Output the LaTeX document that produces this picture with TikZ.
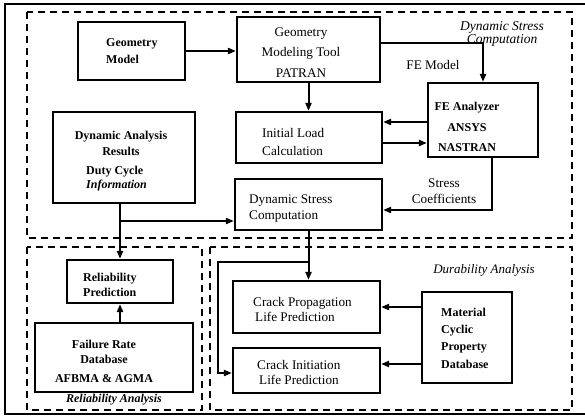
\documentclass[tikz,border=0pt]{standalone}
\usepackage{fontspec}
\setmainfont{Liberation Serif}
\usetikzlibrary{arrows.meta}
\tikzset{
  box/.style={draw, line width=2.2pt, inner sep=0pt},
  region/.style={draw, line width=1.5pt, dash pattern=on 7pt off 5pt},
  conn/.style={line width=2pt, -{Triangle[length=8pt,width=6pt]}},
  txt/.style={inner sep=0pt, font=\fontsize{13.2}{16}\selectfont},
  btxt/.style={inner sep=0pt, font=\fontsize{12}{16}\selectfont\bfseries},
}
\begin{document}
\begin{tikzpicture}[x=1pt,y=-1pt]
\useasboundingbox (0,0) rectangle (585,418);
% outer frame
\draw[line width=2.4pt] (585,4) -- (5,4) -- (5,414) -- (585,414);
% regions
\draw[region] (27,12) rectangle (572,238);
\draw[region] (27,247) rectangle (202,410);
\draw[region] (210,247) rectangle (572,410);
% boxes
\node[box, minimum width=107pt, minimum height=58pt] (gm) at (131.5,51) {};
\node[box, minimum width=143pt, minimum height=65pt] (gmt) at (308.5,49.5) {};
\node[box, minimum width=142pt, minimum height=91pt] (dar) at (124,157.5) {};
\node[box, minimum width=146pt, minimum height=51pt] (ilc) at (309,137.5) {};
\node[box, minimum width=110pt, minimum height=74pt] (fea) at (483,120) {};
\node[box, minimum width=147pt, minimum height=51pt] (dsc) at (308.5,204.5) {};
\node[box, minimum width=106pt, minimum height=43pt] (rp) at (120,281.5) {};
\node[box, minimum width=158pt, minimum height=69pt] (frd) at (114,357.5) {};
\node[box, minimum width=147pt, minimum height=52pt] (cp) at (306.5,307) {};
\node[box, minimum width=147pt, minimum height=45pt] (ci) at (306.5,370.5) {};
\node[box, minimum width=90pt, minimum height=91pt] (mcpd) at (467,337.5) {};
% texts
\node[btxt, align=left, anchor=west, font=\fontsize{12}{17}\selectfont\bfseries] (gmtxt) at (106,51.5) {Geometry\\Model};
\node[txt, align=center, font=\fontsize{13.2}{20.5}\selectfont] (gmttxt) at (301,52.5) {Geometry\\Modeling Tool\\PATRAN};
\node[btxt, align=center] (dartxt) at (121,143) {Dynamic Analysis\\Results};
\node[btxt, align=left, anchor=west, font=\fontsize{12}{14}\selectfont\bfseries] (dartxt2) at (86,179) {Duty Cycle\\\textit{Information}};
\node[txt, align=left, anchor=west, font=\fontsize{13.2}{18}\selectfont] (ilctxt) at (262,142) {Initial Load\\Calculation};
\node[txt, align=left, anchor=west] (dsctxt) at (249,209) {Dynamic Stress\\Computation};
\node[btxt, align=center, font=\fontsize{12}{20.5}\selectfont\bfseries] (featxt) at (467,127) {FE Analyzer\\ANSYS\\NASTRAN};
\node[txt] (femodel) at (433,65) {FE Model};
\node[txt, align=center] (stc) at (444,191) {Stress\\Coefficients};
\node[txt, align=center, font=\fontsize{13.5}{13}\selectfont\itshape] (dsclbl) at (502,33.5) {Dynamic Stress\\Computation};
\node[btxt, align=left, anchor=west, font=\fontsize{12}{15}\selectfont\bfseries] (rptxt) at (83,284.5) {Reliability\\Prediction};
\node[btxt, align=center, font=\fontsize{12}{15}\selectfont\bfseries] (frdtxt) at (104,361) {Failure Rate\\Database\\[4pt]AFBMA \& AGMA};
\node[btxt, font=\fontsize{12}{14}\selectfont\bfseries\itshape] (ralbl) at (114,400) {Reliability Analysis};
\node[txt, align=left, anchor=west, font=\fontsize{13.2}{15}\selectfont] (cptxt) at (253,309.5) {Crack Propagation\\\hspace*{2pt}Life Prediction};
\node[txt, align=left, anchor=west, font=\fontsize{13.2}{15}\selectfont] (citxt) at (257,372.5) {Crack Initiation\\\hspace*{2pt}Life Prediction};
\node[txt, font=\fontsize{13}{14}\selectfont\itshape] (dulbl) at (484,270) {Durability Analysis};
\node[btxt, align=left, anchor=west, font=\fontsize{12}{17.3}\selectfont\bfseries] (mcpdtxt) at (441,338) {Material\\Cyclic\\Property\\Database};
% connectors
\draw[conn] (gm.east) -- (gm.east -| gmt.west);
\draw[conn] ([yshift=6.5pt]gmt.east) -| (fea.north);
\draw[conn] (gmt.south) -- (gmt.south |- ilc.north);
\draw[conn] ([yshift=-2pt]fea.west) -- ([yshift=-2pt]fea.west -| ilc.east);
\draw[conn] ([yshift=-5.5pt]ilc.east) -- ([yshift=-5.5pt]ilc.east -| fea.west);
\draw[conn] ([xshift=9pt]fea.south) |- ([yshift=-5.5pt]dsc.east);
\draw[conn] (dar.south -| rp.north) -- (rp.north);
\coordinate (br) at (120,221);
\draw[conn] (br) -- (br -| dsc.west);
\draw[conn] (frd.north -| rp.south) -- (rp.south);
\draw[conn] (dsc.south) -- (dsc.south |- cp.north);
\coordinate (b2) at (308.5,262);
\coordinate (b3) at (218,262);
\draw[conn] (b2) -- (b3) |- ([yshift=-2.5pt]ci.west);
\draw[conn] (mcpd.west |- cp.east) -- (cp.east);
\coordinate (m2) at (422,364);
\draw[conn] (m2) -- (m2 -| ci.east);
\end{tikzpicture}
\end{document}
